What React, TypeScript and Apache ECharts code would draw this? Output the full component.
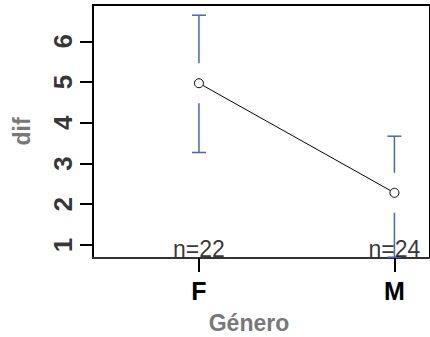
import React, { useEffect, useRef } from "react";
import * as echarts from "echarts";

// ---- data ----
const categories = ["F", "M"];
const means = [4.97, 2.28];
const ciLower = [3.27, 0.7];
const ciUpper = [6.64, 3.67];
const counts = [22, 24];
const yTicks = [1, 2, 3, 4, 5, 6];
const xLabel = "Género";
const yLabel = "dif";

const Y_MIN = 0.68;
const Y_MAX = 6.89;
const X_MIN = 0.458;
const X_MAX = 2.182;

const FONT = "Liberation Sans, Arial, Helvetica, sans-serif";

export default function App() {
  const ref = useRef<HTMLDivElement>(null);

  useEffect(() => {
    if (!ref.current) return;
    const chart = echarts.init(ref.current, undefined, { renderer: "svg" });
    const xs = categories.map((_, i) => i + 1);
    const barData = xs.map((x, i) => [x, means[i], ciLower[i], ciUpper[i]]);
    const lineData = xs.map((x, i) => [x, means[i]]);
    const nData = xs.map((x) => [x, Y_MIN]);
    const yLabelData = yTicks.map((v) => [X_MIN, v]);

    chart.setOption({
      animation: false,
      backgroundColor: "#fff",
      textStyle: { fontFamily: FONT },
      grid: {
        left: 93,
        right: 10,
        top: 5,
        bottom: 79,
        show: true,
        borderColor: "#000",
        borderWidth: 2,
        backgroundColor: "transparent",
      },
      xAxis: {
        type: "value",
        min: X_MIN,
        max: X_MAX,
        splitLine: { show: false },
        axisLine: { show: true, onZero: false, lineStyle: { color: "#333", width: 2 } },
        axisTick: { show: true, customValues: xs, length: 14, lineStyle: { color: "#000", width: 2 } },
        axisLabel: {
          customValues: xs,
          formatter: (v: number) => categories[Math.round(v) - 1] ?? "",
          fontSize: 25,
          fontWeight: "bold",
          color: "#000",
          margin: 20,
          fontFamily: FONT,
        },
      },
      yAxis: {
        type: "value",
        min: Y_MIN,
        max: Y_MAX,
        name: yLabel,
        nameLocation: "middle",
        nameRotate: 90,
        nameGap: 60,
        nameTextStyle: { fontSize: 23, fontWeight: "bold", color: "#787878", fontFamily: FONT },
        splitLine: { show: false },
        axisLine: { show: true, onZero: false, lineStyle: { color: "#000", width: 2 } },
        axisTick: { show: true, customValues: yTicks, length: 13, lineStyle: { color: "#000", width: 2 } },
        axisLabel: { show: false, customValues: yTicks },
      },
      graphic: [
        {
          type: "text",
          x: 249,
          y: 323,
          style: {
            text: xLabel,
            fontSize: 23,
            fontWeight: "bold",
            fill: "#787878",
            fontFamily: FONT,
            align: "center",
            verticalAlign: "middle",
          },
        },
      ],
      series: [
        {
          type: "custom",
          data: barData,
          clip: true,
          z: 2,
          renderItem: (params: any, api: any) => {
            const x = api.value(0);
            const m = api.value(1);
            const lo = api.value(2);
            const hi = api.value(3);
            const pm = api.coord([x, m]);
            const ph = api.coord([x, hi]);
            const pl = api.coord([x, lo]);
            const gap = 20;
            const cap = 7;
            const style = { stroke: "#4466bb", lineWidth: 1.5 };
            return {
              type: "group",
              children: [
                { type: "line", shape: { x1: ph[0], y1: ph[1], x2: pm[0], y2: pm[1] - gap }, style },
                { type: "line", shape: { x1: pm[0], y1: pm[1] + gap, x2: pl[0], y2: pl[1] }, style },
                { type: "line", shape: { x1: ph[0] - cap, y1: ph[1], x2: ph[0] + cap, y2: ph[1] }, style },
                { type: "line", shape: { x1: pl[0] - cap, y1: pl[1], x2: pl[0] + cap, y2: pl[1] }, style },
              ],
            };
          },
        },
        {
          type: "line",
          data: lineData,
          z: 3,
          symbol: "circle",
          symbolSize: 9,
          itemStyle: { color: "#fff", borderColor: "#000", borderWidth: 1 },
          lineStyle: { color: "#000", width: 1 },
        },
        {
          type: "scatter",
          data: nData,
          z: 4,
          symbolSize: 1,
          itemStyle: { color: "transparent" },
          silent: true,
          label: {
            show: true,
            position: "top",
            distance: 0,
            formatter: (p: any) => "n=" + counts[p.dataIndex],
            fontSize: 23,
            color: "#000",
            fontFamily: FONT,
            offset: [0, 3],
          },
        },
        {
          type: "scatter",
          data: yLabelData,
          z: 4,
          symbolSize: 1,
          clip: false,
          itemStyle: { color: "transparent" },
          silent: true,
          label: {
            show: true,
            position: "inside",
            offset: [0, -30],
            rotate: 90,
            align: "center",
            verticalAlign: "middle",
            formatter: (p: any) => String(p.value[1]),
            fontSize: 26,
            fontWeight: "bold",
            color: "#000",
            fontFamily: FONT,
          },
        },
      ],
    });
    return () => chart.dispose();
  }, []);

  return (
    <div style={{ position: "absolute", left: 0, top: 0, width: 430, height: 337, overflow: "hidden", background: "#fff" }}>
      <div ref={ref} style={{ width: 440, height: 337 }} />
    </div>
  );
}
